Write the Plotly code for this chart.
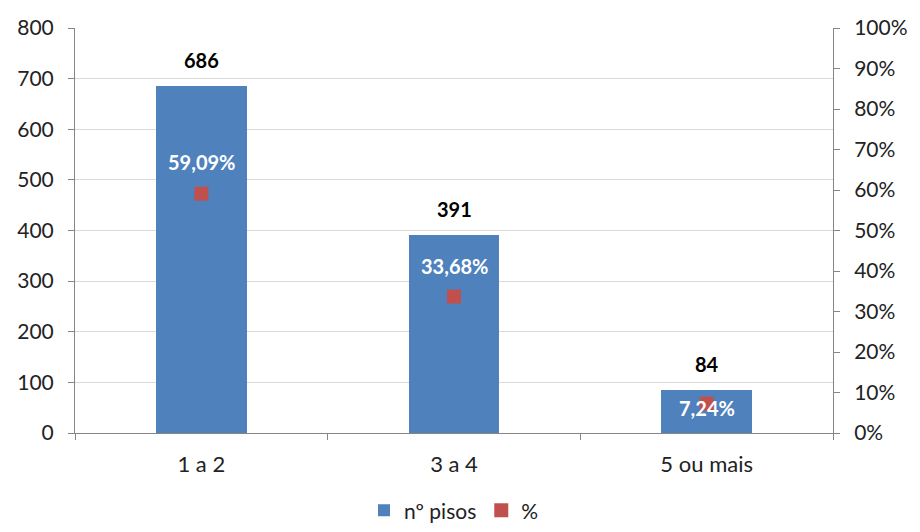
import plotly.graph_objects as go

# Number of buildings by count of floors, with share of total
categories = ["1 a 2", "3 a 4", "5 ou mais"]
counts = [686, 391, 84]
shares = [59.09, 33.68, 7.24]
share_labels = ["59,09%", "33,68%", "7,24%"]

left_ticks = [0, 100, 200, 300, 400, 500, 600, 700, 800]
right_ticks = [0, 10, 20, 30, 40, 50, 60, 70, 80, 90, 100]
right_ticktext = [f"{v}%" for v in right_ticks]

BLUE = "#4F81BD"
RED = "#C0504D"
FONT = "Lato"
TICK_SIZE = 21

fig = go.Figure()

fig.add_trace(go.Bar(
    x=categories, y=counts, name="nº pisos",
    marker=dict(color=BLUE, line=dict(width=0)),
    width=0.36,
))

fig.add_trace(go.Scatter(
    x=categories, y=shares, name="%", yaxis="y2", mode="markers",
    marker=dict(symbol="square", size=14, color=RED),
))

# value labels above the bars
for c, v in zip(categories, counts):
    fig.add_annotation(x=c, y=v, yref="y", text=f"<b>{v}</b>",
                       showarrow=False, yshift=26,
                       font=dict(family=FONT, size=20, color="black"))

# percentage labels near the markers
pct_shift = [32, 31, -4]
for c, v, t, s in zip(categories, shares, share_labels, pct_shift):
    fig.add_annotation(x=c, y=v, yref="y2", text=f"<b>{t}</b>",
                       showarrow=False, yshift=s,
                       font=dict(family=FONT, size=20, color="white"))

fig.update_layout(
    width=920, height=532,
    margin=dict(l=75, r=87, t=28, b=99, autoexpand=False),
    paper_bgcolor="white", plot_bgcolor="white",
    font=dict(family=FONT, size=TICK_SIZE, color="#222222"),
    showlegend=True,
    legend=dict(orientation="h", x=0.5, xanchor="center",
                yref="container", y=0.04, yanchor="middle",
                font=dict(size=21), itemwidth=30),
    bargap=0,
    xaxis=dict(
        showline=True, linecolor="#868686", linewidth=1,
        ticks="outside", tickson="boundaries", ticklen=6, tickcolor="#868686",
        showgrid=False, tickfont=dict(size=22), ticklabelstandoff=12,
    ),
    yaxis=dict(
        range=[0, 800], tickvals=left_ticks,
        showline=True, linecolor="#868686", linewidth=1,
        ticks="outside", ticklen=6, tickcolor="#868686",
        showgrid=True, gridcolor="#D9D9D9", gridwidth=1,
        zeroline=False, tickfont=dict(size=TICK_SIZE), ticklabelstandoff=10,
    ),
    yaxis2=dict(
        range=[0, 100], tickvals=right_ticks, ticktext=right_ticktext,
        overlaying="y", side="right",
        showline=True, linecolor="#868686", linewidth=1,
        ticks="outside", ticklen=6, tickcolor="#868686",
        showgrid=False, zeroline=False, tickfont=dict(size=TICK_SIZE),
        ticklabelstandoff=10,
    ),
)

fig.write_html("out.html")
